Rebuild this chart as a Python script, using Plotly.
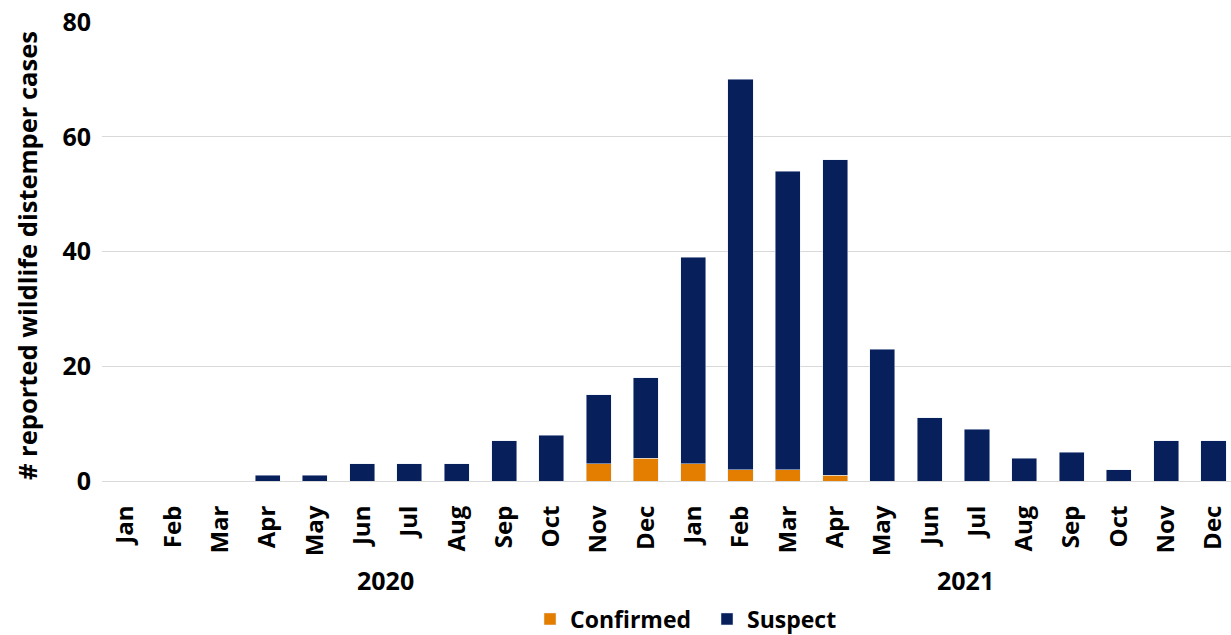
import plotly.graph_objects as go

months = ["Jan", "Feb", "Mar", "Apr", "May", "Jun", "Jul", "Aug", "Sep", "Oct", "Nov", "Dec",
          "Jan", "Feb", "Mar", "Apr", "May", "Jun", "Jul", "Aug", "Sep", "Oct", "Nov", "Dec"]
years = ["2020"] * 12 + ["2021"] * 12
confirmed = [0, 0, 0, 0, 0, 0, 0, 0, 0, 0, 3, 4,
             3, 2, 2, 1, 0, 0, 0, 0, 0, 0, 0, 0]
suspect = [0, 0, 0, 1, 1, 3, 3, 3, 7, 8, 12, 14,
           36, 68, 52, 55, 23, 11, 9, 4, 5, 2, 7, 7]
year_labels = ["2020", "2021"]
year_pos = [5.5, 17.75]
y_ticks = [0, 20, 40, 60, 80]

FONT = "Open Sans"
W, H = 1231, 635
ML, MR, MT, MB = 102, 0, 22, 154
PW, PH = W - ML - MR, H - MT - MB
idx = list(range(len(months)))


def px_x(p):
    return (p - ML) / PW


def px_y(p):
    return 1 - (p - MT) / PH


fig = go.Figure()
fig.add_trace(go.Bar(x=idx, y=confirmed, name="<b>Confirmed</b>", marker=dict(color="#E47E00")))
fig.add_trace(go.Bar(x=idx, y=suspect, name="<b>Suspect</b>", marker=dict(color="#071F5B")))

for lab, pos in zip(year_labels, year_pos):
    fig.add_annotation(x=pos, xref="x", y=px_y(580), yref="paper", yanchor="middle",
                       text=f"<b>{lab}</b>", showarrow=False,
                       font=dict(family=FONT, size=25, color="#000000"))

fig.add_annotation(x=px_x(27), xref="paper", y=px_y(256), yref="paper",
                   xanchor="center", yanchor="middle", textangle=-90,
                   text="<b># reported wildlife distemper cases</b>", showarrow=False,
                   font=dict(family=FONT, size=25.5, color="#000000"))

fig.update_layout(
    width=W, height=H,
    margin=dict(l=ML, r=MR, t=MT, b=MB, autoexpand=False),
    barmode="stack", bargap=0.47,
    plot_bgcolor="white", paper_bgcolor="white",
    font=dict(family=FONT, color="#000000"),
    showlegend=True,
    legend=dict(orientation="h", x=px_x(530), xanchor="left", y=px_y(619), yanchor="middle",
                font=dict(family=FONT, size=23, color="#000000"),
                entrywidth=132, traceorder="normal"),
    xaxis=dict(
        tickmode="array", tickvals=idx, ticktext=[f"<b>{m}</b>" for m in months],
        tickangle=-90, range=[-0.5, 23.37], automargin=False,
        tickfont=dict(family=FONT, size=24, color="#000000"),
        ticks="outside", ticklen=14, tickcolor="rgba(0,0,0,0)",
        showgrid=False, showline=True, linecolor="#D9D9D9", linewidth=1,
        zeroline=False,
    ),
    yaxis=dict(
        range=[0, 80], tickvals=y_ticks, automargin=False,
        ticktext=[f"<b>{v}</b>" for v in y_ticks],
        tickfont=dict(family=FONT, size=25, color="#000000"),
        ticks="outside", ticklen=5, tickcolor="rgba(0,0,0,0)",
        showgrid=True, gridcolor="#D9D9D9", gridwidth=1,
        zeroline=False, showline=False,
    ),
)

fig.write_html("out.html")
